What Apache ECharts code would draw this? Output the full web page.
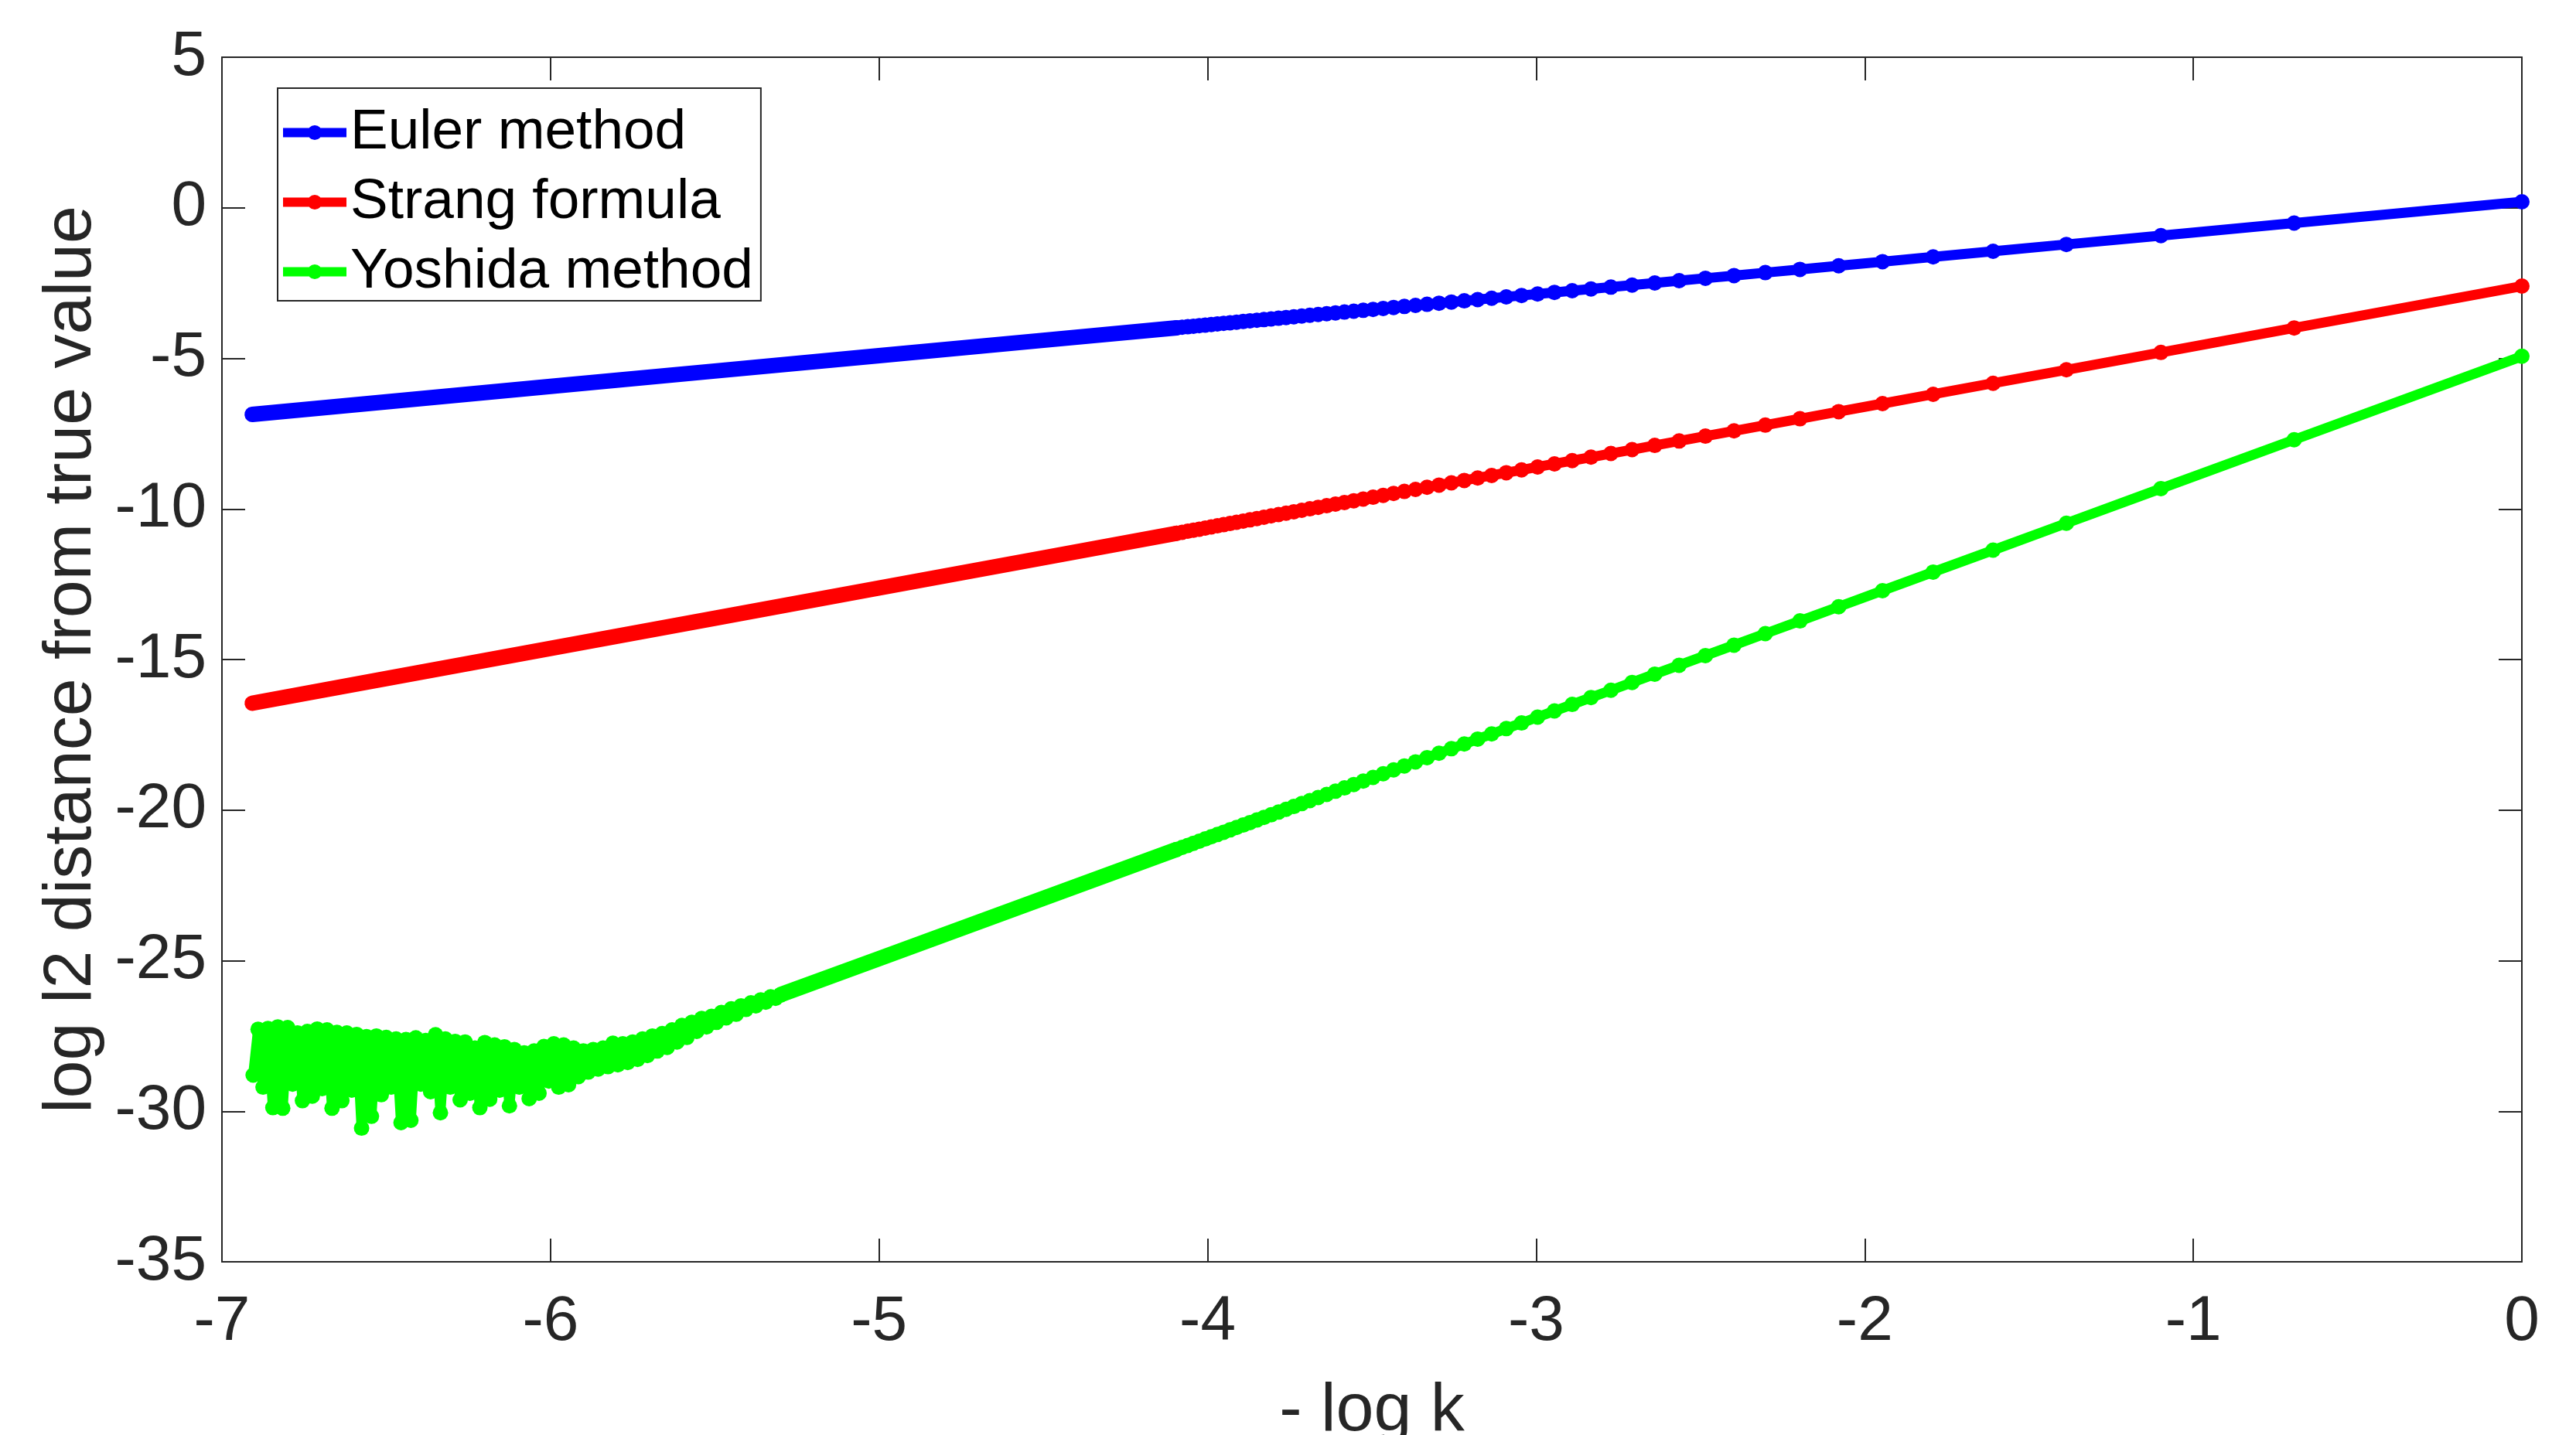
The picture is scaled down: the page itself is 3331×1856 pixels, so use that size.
<!DOCTYPE html>
<html><head><meta charset="utf-8">
<script src="https://cdn.jsdelivr.net/npm/echarts@6/dist/echarts.min.js"></script>
<style>html,body{margin:0;padding:0;background:#fff}#c{width:3331px;height:1856px}</style>
</head><body><div id="c"></div>
<script>
// ---- data (x = -log k) ----
const xSparse = [0, -0.6931, -1.0986, -1.3863, -1.6094, -1.7918, -1.9459, -2.0794, -2.1972, -2.3026,
  -2.3979, -2.4849, -2.5649, -2.6391, -2.7081, -2.7726, -2.8332, -2.8904, -2.9444, -2.9957,
  -3.0445, -3.0910, -3.1355, -3.1781, -3.2189, -3.2581, -3.2958, -3.3322, -3.3673, -3.4012,
  -3.4340, -3.4657, -3.4965, -3.5264, -3.5553, -3.5835, -3.6109, -3.6376, -3.6636, -3.6889,
  -3.7136, -3.7377, -3.7612, -3.7842, -3.8067, -3.8286, -3.8501, -3.8712, -3.8918, -3.9120,
  -3.9318, -3.9512, -3.9703, -3.9890, -4.0073, -4.0254, -4.0431, -4.0604, -4.0775, -4.0943];
const eulerSparse = [0.200, -0.508, -0.923, -1.217, -1.445, -1.631, -1.789, -1.925, -2.046, -2.153,
  -2.251, -2.340, -2.421, -2.497, -2.568, -2.634, -2.696, -2.754, -2.809, -2.862,
  -2.911, -2.959, -3.004, -3.048, -3.090, -3.130, -3.168, -3.206, -3.241, -3.276,
  -3.310, -3.342, -3.373, -3.404, -3.434, -3.462, -3.490, -3.518, -3.544, -3.570,
  -3.595, -3.620, -3.644, -3.667, -3.690, -3.713, -3.735, -3.756, -3.777, -3.798,
  -3.818, -3.838, -3.858, -3.877, -3.895, -3.914, -3.932, -3.950, -3.967, -3.984];
const strangSparse = [-2.600, -3.990, -4.803, -5.380, -5.827, -6.193, -6.502, -6.769, -7.005, -7.217,
  -7.408, -7.582, -7.743, -7.891, -8.030, -8.159, -8.281, -8.395, -8.504, -8.606,
  -8.704, -8.797, -8.887, -8.972, -9.054, -9.133, -9.208, -9.281, -9.351, -9.419,
  -9.485, -9.549, -9.610, -9.670, -9.728, -9.785, -9.840, -9.893, -9.946, -9.996,
  -10.046, -10.094, -10.141, -10.187, -10.232, -10.276, -10.319, -10.362, -10.403, -10.444,
  -10.483, -10.522, -10.560, -10.598, -10.635, -10.671, -10.706, -10.741, -10.775, -10.809];
const yoshidaSparse = [-4.930, -7.702, -9.324, -10.475, -11.368, -12.097, -12.714, -13.248, -13.719, -14.140,
  -14.522, -14.870, -15.190, -15.486, -15.762, -16.020, -16.263, -16.492, -16.708, -16.913,
  -17.108, -17.294, -17.472, -17.642, -17.806, -17.962, -18.113, -18.259, -18.399, -18.535,
  -18.666, -18.793, -18.916, -19.036, -19.151, -19.264, -19.374, -19.480, -19.584, -19.686,
  -19.784, -19.881, -19.975, -20.067, -20.157, -20.244, -20.330, -20.415, -20.497, -20.578,
  -20.657, -20.735, -20.811, -20.886, -20.959, -21.032, -21.102, -21.172, -21.240, -21.307];

// densely packed part (markers merge into a solid band)
const xDense = [-4.0943, -4.5, -5.0, -5.5, -6.0, -6.5, -6.9078];
const eulerDense = [-3.984, -4.399, -4.910, -5.421, -5.932, -6.443, -6.860];
const strangDense = [-10.809, -11.623, -12.625, -13.628, -14.630, -15.633, -16.451];
const xYoshidaDense = [-4.0943, -4.5, -5.0, -5.3];
const yoshidaDense = [-21.307, -22.930, -24.930, -26.130];

// Yoshida noise floor region
const xYoshidaNoise = [-5.300,-5.315,-5.330,-5.345,-5.360,-5.375,-5.390,-5.405,-5.420,-5.435,
  -5.450,-5.465,-5.480,-5.495,-5.510,-5.525,-5.540,-5.555,-5.570,-5.585,
  -5.600,-5.615,-5.630,-5.645,-5.660,-5.675,-5.690,-5.705,-5.720,-5.735,
  -5.750,-5.765,-5.780,-5.795,-5.810,-5.825,-5.840,-5.855,-5.870,-5.885,
  -5.900,-5.915,-5.930,-5.945,-5.960,-5.975,-5.990,-6.005,-6.020,-6.035,
  -6.050,-6.065,-6.080,-6.095,-6.110,-6.125,-6.140,-6.155,-6.170,-6.185,
  -6.200,-6.215,-6.230,-6.245,-6.260,-6.275,-6.290,-6.305,-6.320,-6.335,
  -6.350,-6.365,-6.380,-6.395,-6.410,-6.425,-6.440,-6.455,-6.470,-6.485,
  -6.500,-6.515,-6.530,-6.545,-6.560,-6.575,-6.590,-6.605,-6.620,-6.635,
  -6.650,-6.665,-6.680,-6.695,-6.710,-6.725,-6.740,-6.755,-6.770,-6.785,
  -6.800,-6.815,-6.830,-6.845,-6.860,-6.875,-6.890,-6.905];
const yoshidaNoise = [-26.15,-26.25,-26.20,-26.38,-26.30,-26.50,-26.40,-26.62,-26.50,-26.78,
  -26.60,-26.90,-26.72,-27.05,-26.85,-27.20,-26.92,-27.35,-27.05,-27.55,
  -27.15,-27.70,-27.30,-27.88,-27.42,-28.00,-27.50,-28.15,-27.60,-28.28,
  -27.70,-28.38,-27.76,-28.46,-27.74,-28.52,-27.90,-28.60,-27.95,-28.70,
  -28.00,-28.85,-27.90,-29.12,-27.80,-29.20,-27.76,-29.00,-27.85,-29.40,
  -28.00,-29.58,-28.06,-29.20,-27.95,-29.82,-27.86,-29.30,-27.80,-29.60,
  -27.72,-29.88,-27.90,-29.40,-27.70,-29.62,-27.68,-29.20,-27.60,-30.05,
  -27.46,-29.35,-27.65,-29.10,-27.56,-30.30,-27.62,-30.38,-27.60,-29.20,
  -27.55,-29.45,-27.50,-30.17,-27.52,-30.56,-27.45,-29.30,-27.40,-29.65,
  -27.38,-29.90,-27.30,-29.25,-27.27,-29.50,-27.35,-29.65,-27.40,-29.10,
  -27.22,-29.90,-27.20,-29.88,-27.25,-29.20,-27.28,-28.80];

const seriesNames = ['Euler method', 'Strang formula', 'Yoshida method'];
const seriesColors = ['#0000ff', '#ff0000', '#00ff00'];

// ---- chart ----
const FONT = '"Liberation Sans", Arial, Helvetica, sans-serif';
const AX = '#262626';
const zip = (xs, ys) => xs.map((x, i) => [x, ys[i]]);

function markerSeries(name, color, xs, ys) {
  return { name, type: 'line', data: zip(xs, ys), symbol: 'circle', symbolSize: 20, showSymbol: true,
    itemStyle: { color }, lineStyle: { color, width: 13, cap: 'round', join: 'round' },
    clip: false, z: 3, emphasis: { disabled: true } };
}
function bandSeries(name, color, xs, ys) {
  return { name, type: 'line', data: zip(xs, ys), symbol: 'none', showSymbol: false,
    itemStyle: { color }, lineStyle: { color, width: 20, cap: 'round', join: 'round' },
    clip: false, z: 3, emphasis: { disabled: true } };
}

const legendIcon = 'path://M0,3.5L82,3.5L82,15.5L0,15.5Z M31.5,9.5A9.5,9.5 0 1,1 50.5,9.5A9.5,9.5 0 1,1 31.5,9.5Z';

const axisLine = { show: true, onZero: false, lineStyle: { color: AX, width: 2 } };
const axisTick = { show: true, inside: true, length: 30, lineStyle: { color: AX, width: 2 } };

const option = {
  animation: false,
  backgroundColor: '#ffffff',
  grid: { left: 287, right: 70, top: 74, bottom: 224, containLabel: false, outerBoundsMode: 'none' },
  legend: {
    show: true, orient: 'vertical', left: 359, top: 114,
    data: seriesNames,
    icon: legendIcon, itemWidth: 82, itemHeight: 19, itemGap: 17,
    padding: [21, 10, 1, 7],
    backgroundColor: '#ffffff', borderColor: AX, borderWidth: 2, borderRadius: 0,
    selectedMode: false,
    textStyle: { fontSize: 73, color: '#000000', fontFamily: FONT }
  },
  xAxis: [
    { type: 'value', min: -7, max: 0, interval: 1, position: 'bottom',
      name: '- log k', nameLocation: 'middle', nameGap: 150,
      nameTextStyle: { fontSize: 88, color: AX, fontFamily: FONT },
      axisLine, axisTick,
      axisLabel: { fontSize: 82, color: AX, fontFamily: FONT, margin: 37, showMinLabel: true, showMaxLabel: true },
      splitLine: { show: false } },
    { type: 'value', min: -7, max: 0, interval: 1, position: 'top',
      axisLine, axisTick, axisLabel: { show: false }, splitLine: { show: false } }
  ],
  yAxis: [
    { type: 'value', min: -35, max: 5, interval: 5, position: 'left',
      name: 'log l2 distance from true value', nameLocation: 'middle', nameGap: 150, nameRotate: 90,
      nameTextStyle: { fontSize: 88, color: AX, fontFamily: FONT },
      axisLine, axisTick,
      axisLabel: { fontSize: 82, color: AX, fontFamily: FONT, margin: 20, showMinLabel: true, showMaxLabel: true },
      splitLine: { show: false } },
    { type: 'value', min: -35, max: 5, interval: 5, position: 'right',
      axisLine, axisTick, axisLabel: { show: false }, splitLine: { show: false } }
  ],
  series: [
    markerSeries(seriesNames[0], seriesColors[0], xSparse, eulerSparse),
    markerSeries(seriesNames[1], seriesColors[1], xSparse, strangSparse),
    markerSeries(seriesNames[2], seriesColors[2], xSparse, yoshidaSparse),
    bandSeries(seriesNames[0], seriesColors[0], xDense, eulerDense),
    bandSeries(seriesNames[1], seriesColors[1], xDense, strangDense),
    bandSeries(seriesNames[2], seriesColors[2], xYoshidaDense, yoshidaDense),
    markerSeries(seriesNames[2], seriesColors[2], xYoshidaNoise, yoshidaNoise)
  ]
};

const chart = echarts.init(document.getElementById('c'), null, { renderer: 'canvas' });
chart.setOption(option);
</script></body></html>
